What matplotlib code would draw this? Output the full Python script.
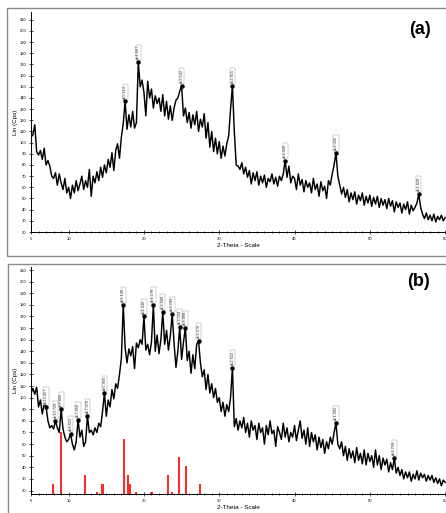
import numpy as np
import matplotlib
matplotlib.use("Agg")
import matplotlib.pyplot as plt
from matplotlib.patches import Rectangle
from matplotlib.ticker import FixedLocator, MultipleLocator

plt.rcParams['font.family'] = ['Liberation Sans', 'DejaVu Sans']

# ---------------- data ----------------
TWO_THETA_START = 5.0
TWO_THETA_STEP = 0.25

counts_a = [
    105, 107, 116, 92,   89, 93, 85, 95,    80, 84, 79, 70,    68, 73, 62, 72,
    64, 58, 68, 55,      60, 50, 62, 55,    66, 57, 63, 70,    58, 66, 60, 76,
    52, 70, 64, 74,      66, 78, 69, 80,    73, 85, 78, 91,    75, 93, 99, 86,
    105, 117, 137, 112,  125, 114, 128, 113, 118, 172, 150, 156, 145, 124, 155, 140,
    148, 131, 142, 135,  140, 128, 143, 124, 137, 121, 133, 120, 131, 138, 140, 146,
    151, 124, 131, 118,  127, 113, 125, 116, 128, 110, 121, 114, 126, 104, 118, 96,
    110, 92, 104, 90,    101, 86, 97, 88,   99, 106, 130, 151,  110, 80, 79, 76,
    82, 72, 78, 69,      75, 63, 73, 66,    74, 62, 70, 64,    71, 60, 68, 65,
    72, 63, 69, 61,      70, 66, 72, 84,    69, 79, 64, 70,    68, 58, 72, 62,
    67, 56, 66, 60,      64, 55, 68, 58,    63, 52, 65, 57,    61, 50, 66, 62,
    72, 80, 91, 70,      62, 54, 60, 51,    58, 47, 55, 49,    56, 45, 53, 48,
    55, 44, 52, 46,      53, 43, 51, 45,    52, 42, 50, 44,    49, 41, 50, 43,
    48, 38, 47, 42,      46, 37, 45, 40,    47, 36, 44, 39,    42, 46, 54, 42,
    36, 32, 37, 31,      35, 30, 36, 29,    34, 31, 35, 30,    33,
]
peaks_a_2theta = [17.5, 19.25, 25.0, 31.75, 38.75, 45.5, 56.5]
peaks_a_labels = ["d=5.113", "d=4.667", "d=3.542", "d=2.815", "d=2.328", "d=2.006", "d=1.629"]

counts_b = [
    104, 108, 103, 109,  92, 98, 86, 95,    92, 80, 74, 76,    73, 80, 74, 70,
    90, 73, 66, 62,      64, 69, 60, 55,    62, 81, 66, 72,    58, 62, 84, 70,
    72, 68, 74, 70,      78, 75, 88, 104,   84, 98, 92, 107,   99, 112, 108, 120,
    134, 180, 143, 130,  142, 136, 144, 125, 147, 143, 150, 146, 170, 141, 146, 137,
    148, 180, 140, 154,  138, 150, 174, 146, 158, 141, 153, 172, 147, 126, 140, 161,
    133, 148, 160, 132,  140, 121, 137, 125, 146, 149, 130, 118, 124, 107, 120, 104,
    112, 100, 108, 96,   100, 88, 96, 84,   94, 88, 100, 126,  75, 82, 72, 80,
    74, 83, 70, 78,      66, 80, 72, 76,    64, 78, 70, 74,    60, 76, 68, 80,
    69, 72, 58, 75,      70, 64, 78, 66,    74, 62, 70, 66,    76, 63, 72, 80,
    65, 72, 60, 74,      58, 70, 62, 68,    55, 66, 57, 64,    52, 62, 56, 66,
    60, 70, 78, 60,      56, 62, 50, 58,    46, 56, 48, 54,    44, 57, 46, 52,
    43, 55, 42, 52,      45, 50, 40, 55,    42, 50, 38, 48,    42, 47, 36, 44,
    38, 48, 35, 40,      33, 38, 30, 36,    31, 36, 28, 34,    30, 37, 29, 35,
    31, 34, 28, 33,      29, 33, 27, 31,    26, 30, 24, 29,    27,
]
peaks_b_2theta = [7.0, 8.25, 9.0, 10.25, 11.25, 12.5, 14.75, 17.25, 20.0, 21.25,
                  22.5, 23.75, 24.75, 25.5, 27.25, 31.75, 45.5, 53.25]
peaks_b_labels = ["d=12.457", "d=10.729", "d=9.806", "d=8.623", "d=7.858", "d=7.076",
                  "d=5.956", "d=5.136", "d=4.436", "d=4.178", "d=3.949", "d=3.743",
                  "d=3.594", "d=3.490", "d=3.270", "d=2.822", "d=1.992", "d=1.719"]

ref_b_2theta = [7.9, 9.0, 12.2, 13.8, 14.5, 17.3, 17.85, 18.15, 18.9, 21.0,
                23.2, 23.7, 24.65, 25.6, 27.4]
ref_b_top = [26, 70, 33, 19, 26, 64, 33, 26, 19, 19, 33, 19, 49, 41, 26]

x_major = [5, 10, 20, 30, 40, 50, 60]
y_major = list(range(20, 211, 10))

# ---------------- figure ----------------
W, H = 446, 513
fig = plt.figure(figsize=(W / 100, H / 100), dpi=100)

def fx(px):
    return px / W

def fy(py):
    return 1 - py / H

# panel frames
fig.patches.append(Rectangle((fx(7), fy(256)), 1.2, fy(8) - fy(256),
                             transform=fig.transFigure, fill=False,
                             edgecolor='#8a8a8a', lw=1.0))
fig.patches.append(Rectangle((fx(8), fy(600)), 1.2, fy(264) - fy(600),
                             transform=fig.transFigure, fill=False,
                             edgecolor='#8a8a8a', lw=1.0))

def setup(ax, ylim):
    ax.set_xlim(5, 60.2)
    ax.set_ylim(*ylim)
    for s in ['top', 'right']:
        ax.spines[s].set_visible(False)
    for s in ['left', 'bottom']:
        ax.spines[s].set_linewidth(0.7)
    ax.xaxis.set_major_locator(FixedLocator(x_major))
    ax.xaxis.set_minor_locator(MultipleLocator(1))
    ax.yaxis.set_major_locator(FixedLocator(y_major))
    ax.tick_params(axis='both', which='major', labelsize=3, length=2.5, width=0.5,
                   direction='inout', pad=2)
    ax.tick_params(axis='x', which='minor', length=1.5, width=0.5, direction='inout')
    ax.set_xlabel("2-Theta - Scale", fontsize=4.5, labelpad=1.5)
    ax.set_ylabel("Lin (Cps)", fontsize=4.5, labelpad=1)

def draw(ax, counts, peaks, labels):
    x = TWO_THETA_START + TWO_THETA_STEP * np.arange(len(counts))
    ax.plot(x, counts, color='#000000', lw=1.05, zorder=3)
    py = [counts[int(round((p - TWO_THETA_START) / TWO_THETA_STEP))] for p in peaks]
    ax.plot(peaks, py, 'o', color='black', ms=2.2, zorder=5)
    for p, v, t in zip(peaks, py, labels):
        ax.annotate(t, (p, v), xytext=(0, 2), textcoords='offset points',
                    rotation=90, ha='center', va='bottom', fontsize=2.8,
                    color='#333333',
                    bbox=dict(boxstyle='square,pad=0.15', fc='white',
                              ec='#999999', lw=0.3))

# panel (a)
ax_a = fig.add_axes([fx(31), fy(232), (7.53 * 55.2) / W, (232 - 12) / H])
setup(ax_a, (20, 217))
draw(ax_a, counts_a, peaks_a_2theta, peaks_a_labels)
fig.text(fx(420), fy(29), "(a)", fontsize=13, fontweight='bold',
         ha='center', va='center')

# panel (b)
ax_b = fig.add_axes([fx(31), fy(494), (7.53 * 55.2) / W, (494 - 267) / H])
setup(ax_b, (17, 212.6))
ax_b.bar(ref_b_2theta, np.array(ref_b_top) - 17, bottom=17, width=0.28,
         color='#ff2a2a', linewidth=0, zorder=1)
draw(ax_b, counts_b, peaks_b_2theta, peaks_b_labels)
fig.text(fx(419), fy(281), "(b)", fontsize=13, fontweight='bold',
         ha='center', va='center')

fig.savefig("out.png", dpi=100)
